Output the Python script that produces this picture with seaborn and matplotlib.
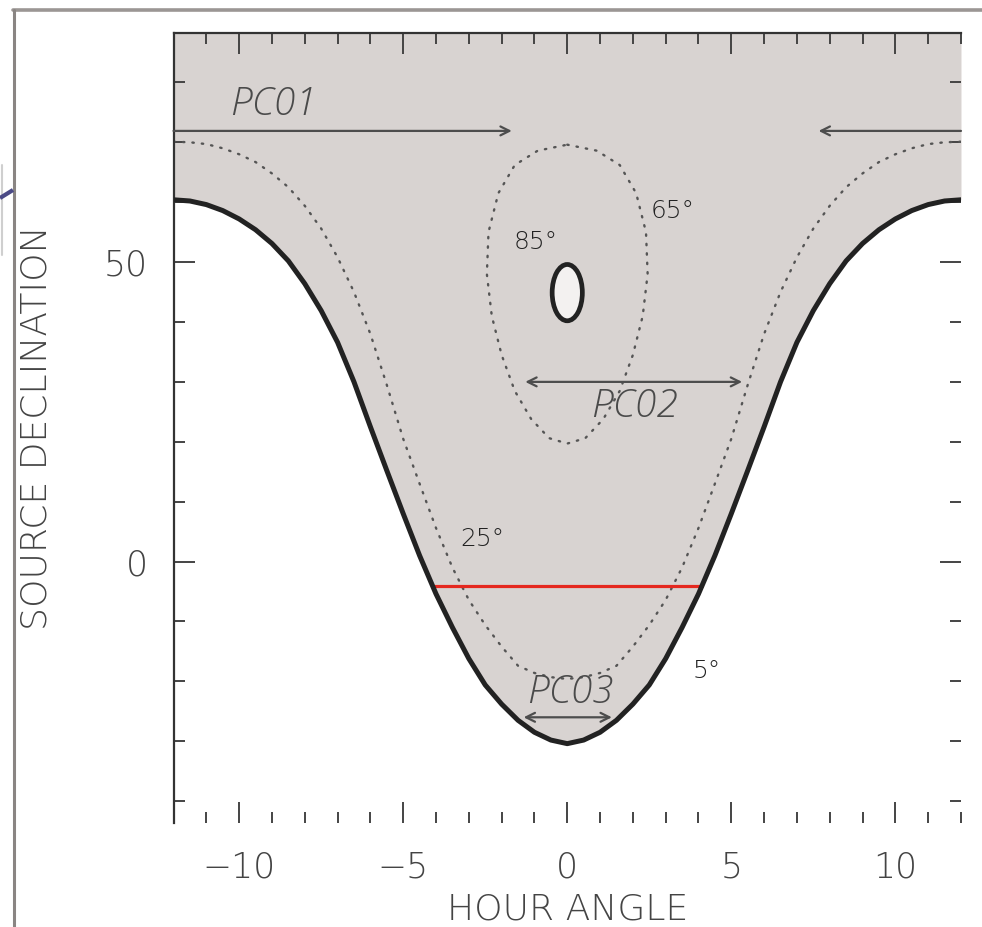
import matplotlib
matplotlib.use("Agg")
import matplotlib.pyplot as plt
from matplotlib.patches import Ellipse
from matplotlib.lines import Line2D
from matplotlib.ticker import MultipleLocator, FixedLocator
import numpy as np
import pandas as pd
import seaborn as sns

# ---------------------------------------------------------------- data
hour_angle = [-12.0, -11.5, -11.0, -10.5, -10.0, -9.5, -9.0, -8.5, -8.0, -7.5,
              -7.0, -6.5, -6.0, -5.5, -5.0, -4.5, -4.0, -3.5, -3.0, -2.5,
              -2.0, -1.5, -1.0, -0.5, 0.0, 0.5, 1.0, 1.5, 2.0, 2.5,
              3.0, 3.5, 4.0, 4.5, 5.0, 5.5, 6.0, 6.5, 7.0, 7.5,
              8.0, 8.5, 9.0, 9.5, 10.0, 10.5, 11.0, 11.5, 12.0]

# declination limit for 5 deg elevation (thick curve)
dec_elev5 = [60.4, 60.2, 59.6, 58.6, 57.2, 55.4, 53.1, 50.2, 46.4, 41.9,
             36.6, 30.0, 22.5, 15.2, 8.0, 1.0, -5.4, -11.0, -16.2, -20.6,
             -23.8, -26.5, -28.5, -29.8, -30.4, -29.8, -28.5, -26.5, -23.8, -20.6,
             -16.2, -11.0, -5.4, 1.0, 8.0, 15.2, 22.5, 30.0, 36.6, 41.9,
             46.4, 50.2, 53.1, 55.4, 57.2, 58.6, 59.6, 60.2, 60.4]

# declination limit for 25 deg elevation (dotted curve)
dec_elev25 = [70.1, 70.0, 69.7, 69.0, 68.0, 66.7, 64.8, 62.5, 59.4, 55.6,
              50.8, 45.0, 38.0, 29.5, 20.5, 13.0, 5.6, -1.0, -6.4, -10.6,
              -14.2, -17.4, -18.6, -19.3, -19.6, -19.3, -18.6, -17.4, -14.2, -10.6,
              -6.4, -1.0, 5.6, 13.0, 20.5, 29.5, 38.0, 45.0, 50.8, 55.6,
              59.4, 62.5, 64.8, 66.7, 68.0, 69.0, 69.7, 70.0, 70.1]

# closed 65 deg elevation contour
ring65_ha = [0.0, 0.9, 1.6, 2.1, 2.4, 2.45, 2.3, 2.0, 1.6, 1.1, 0.55, 0.0,
             -0.55, -1.1, -1.6, -2.0, -2.3, -2.45, -2.4, -2.1, -1.6, -0.9, 0.0]
ring65_dec = [69.6, 68.6, 66.2, 61.5, 55.0, 48.0, 41.0, 34.5, 28.5, 23.8, 20.6, 19.7,
              20.6, 23.8, 28.5, 34.5, 41.0, 48.0, 55.0, 61.5, 66.2, 68.6, 69.6]

# 85 deg elevation zone (zenith hole)
ring85_center = (0.0, 44.9)
ring85_width = 0.92
ring85_height = 9.4

# observed source track
track_dec = -4.0
track_ha = [-4.12, 4.12]

# coverage arrows
pc01_dec = 71.9
pc01_left = [-12.0, -1.69]
pc01_right = [12.0, 7.66]
pc02_dec = 30.0
pc02_span = [-1.28, 5.33]
pc03_dec = -26.0
pc03_span = [-1.33, 1.36]

labels = [("PC01", -8.96, 76.2), ("PC02", 2.04, 25.8), ("PC03", 0.09, -21.9)]
elev_labels = [("85°", -0.95, 53.3), ("65°", 3.2, 58.6),
               ("25°", -2.6, 3.7), ("5°", 4.25, -18.2)]

xlim = (-12.0, 12.0)
ylim = (-43.6, 88.2)

# ---------------------------------------------------------------- style
sns.set_style("white")
plt.rcParams["font.family"] = ["DejaVu Sans"]
plt.rcParams["font.weight"] = 200
plt.rcParams["axes.labelweight"] = 200
text_col = "#444444"
ink = "#222222"
shade = "#d8d3d1"

fig = plt.figure(figsize=(9.82, 9.27), dpi=100)
ax = fig.add_axes([0.1767, 0.1125, 0.8019, 0.8516])

curves = pd.DataFrame({"hour_angle": hour_angle,
                       "dec5": dec_elev5,
                       "dec25": dec_elev25})

# shaded observable region above the 5 deg limit
ax.fill_between(curves["hour_angle"], curves["dec5"], ylim[1],
                color=shade, lw=0, zorder=0)

sns.lineplot(data=curves, x="hour_angle", y="dec25", ax=ax, color="#555555",
             lw=1.7, linestyle=(0, (0.6, 3.4)), dash_capstyle="round",
             estimator=None, sort=False, zorder=2)
sns.lineplot(data=curves, x="hour_angle", y="dec5", ax=ax, color=ink,
             lw=3.6, estimator=None, sort=False, zorder=4,
             solid_joinstyle="round")

ring = pd.DataFrame({"ha": ring65_ha, "dec": ring65_dec})
sns.lineplot(data=ring, x="ha", y="dec", ax=ax, color="#555555", lw=1.7,
             linestyle=(0, (0.6, 3.4)), dash_capstyle="round",
             estimator=None, sort=False, zorder=2)

ax.add_patch(Ellipse(ring85_center, ring85_width, ring85_height,
                     facecolor="#f3f1f0", edgecolor=ink, lw=3.4, zorder=4))

ax.plot(track_ha, [track_dec, track_dec], color="#e5281f", lw=2.3, zorder=3)

arrow_kw = dict(color="#4d4d4d", lw=1.6, shrinkA=0, shrinkB=0, mutation_scale=16)
ax.annotate("", xy=(pc01_left[1], pc01_dec), xytext=(pc01_left[0], pc01_dec),
            arrowprops=dict(arrowstyle="->", **arrow_kw), zorder=3)
ax.annotate("", xy=(pc01_right[1], pc01_dec), xytext=(pc01_right[0], pc01_dec),
            arrowprops=dict(arrowstyle="->", **arrow_kw), zorder=3)
ax.annotate("", xy=(pc02_span[1], pc02_dec), xytext=(pc02_span[0], pc02_dec),
            arrowprops=dict(arrowstyle="<->", **arrow_kw), zorder=3)
ax.annotate("", xy=(pc03_span[1], pc03_dec), xytext=(pc03_span[0], pc03_dec),
            arrowprops=dict(arrowstyle="<->", **arrow_kw), zorder=3)

for txt, x, y in labels:
    ax.text(x, y, txt, fontsize=28, style="italic", color="#4a4a4a",
            family=["Open Sans", "DejaVu Sans"], fontweight=300,
            ha="center", va="center", zorder=5)
for txt, x, y in elev_labels:
    ax.text(x, y, txt, fontsize=18, color="#222222", fontweight=200,
            ha="center", va="center", zorder=5)

# ---------------------------------------------------------------- axes
ax.set_xlim(*xlim)
ax.set_ylim(*ylim)
ax.xaxis.set_major_locator(FixedLocator([-10, -5, 0, 5, 10]))
ax.xaxis.set_minor_locator(MultipleLocator(1))
ax.yaxis.set_major_locator(FixedLocator([0, 50]))
ax.yaxis.set_minor_locator(MultipleLocator(10))
ax.tick_params(which="both", direction="in", top=True, right=True,
               bottom=True, left=True, color="#444444", width=1.4)
ax.tick_params(which="major", length=15)
ax.tick_params(which="minor", length=8)
ax.tick_params(axis="x", which="major", pad=20, labelsize=25, labelcolor=text_col)
ax.tick_params(axis="y", which="major", pad=18.4, labelsize=25, labelcolor=text_col)
for lab in ax.get_xticklabels() + ax.get_yticklabels():
    lab.set_fontweight(200)

for side in ("right", "bottom"):
    ax.spines[side].set_visible(False)
for side in ("left", "top"):
    ax.spines[side].set_color("#333333")
    ax.spines[side].set_linewidth(1.6)

ax.set_xlabel("HOUR ANGLE", fontsize=26, color=text_col, fontweight=200)
ax.set_ylabel("SOURCE DECLINATION", fontsize=26, color=text_col, fontweight=200)
ax.xaxis.set_label_coords(0.5, -0.088)
ax.yaxis.set_label_coords(-0.152, 0.5)

# outer frame around the panel
W, H = 982.0, 927.0
fig.add_artist(Line2D([13 / W, 1.0], [1 - 10 / H, 1 - 10 / H],
                      transform=fig.transFigure, color="#9b9694", lw=2.6))
fig.add_artist(Line2D([13.5 / W, 13.5 / W], [0.0, 1 - 10 / H],
                      transform=fig.transFigure, color="#8a8583", lw=2.2))
fig.add_artist(Line2D([2 / W, 2 / W], [1 - 165 / H, 1 - 255 / H],
                      transform=fig.transFigure, color="#cfcfcf", lw=1.5))
fig.add_artist(Line2D([0.0, 13 / W], [1 - 198 / H, 1 - 190 / H],
                      transform=fig.transFigure, color="#4b4a86", lw=3.0,
                      solid_capstyle="butt"))

fig.savefig("out.png", dpi=100)
